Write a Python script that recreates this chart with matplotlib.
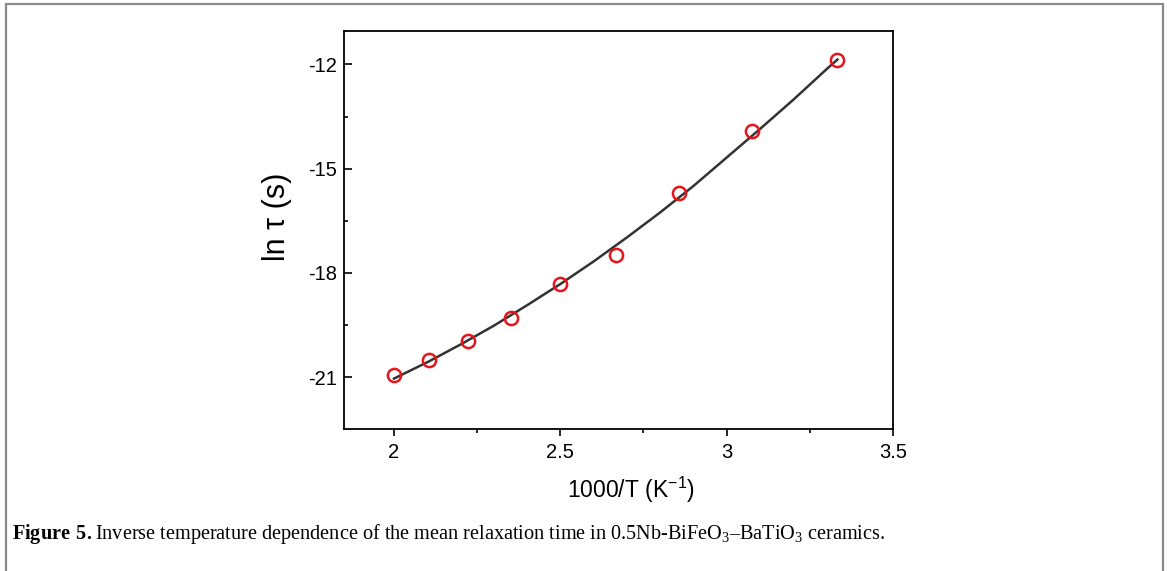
import numpy as np
import matplotlib.pyplot as plt
from matplotlib.patches import Rectangle
from matplotlib.ticker import MultipleLocator

plt.rcParams['font.family'] = ['Liberation Sans', 'DejaVu Sans']
plt.rcParams['axes.unicode_minus'] = False
plt.rcParams['mathtext.fontset'] = 'custom'
plt.rcParams['mathtext.rm'] = 'Liberation Serif'
plt.rcParams['mathtext.bf'] = 'Liberation Serif:bold'
plt.rcParams['mathtext.sf'] = 'Liberation Sans'

# measured points: 1000/T and ln(tau)
inv_t = [2.0, 2.105, 2.222, 2.353, 2.5, 2.667, 2.857, 3.077, 3.333]
ln_tau = [-20.94, -20.51, -19.96, -19.31, -18.32, -17.48, -15.71, -13.92, -11.86]

# fitted curve
fit_x = [2.0, 2.1, 2.2, 2.3, 2.4, 2.5, 2.6, 2.7, 2.8, 2.9, 3.0, 3.1, 3.2, 3.3, 3.333]
fit_y = [-21.04, -20.57, -20.06, -19.52, -18.93, -18.32, -17.67, -16.98, -16.26,
         -15.50, -14.68, -13.86, -13.02, -12.14, -11.86]

fig = plt.figure(figsize=(11.67, 5.71), dpi=100)
ax = fig.add_axes([0.2948, 0.2487, 0.4704, 0.6975])

ax.plot(fit_x, fit_y, color='#333333', lw=1.8, zorder=2)
ax.plot(inv_t, ln_tau, 'o', ms=9.5, mfc='none', mec='#e8141b', mew=1.8, zorder=3)

ax.set_xlim(1.85, 3.5)
ax.set_ylim(-22.49, -11.03)
ax.xaxis.set_major_locator(MultipleLocator(0.5))
ax.xaxis.set_minor_locator(MultipleLocator(0.25))
ax.yaxis.set_major_locator(MultipleLocator(3))
ax.yaxis.set_minor_locator(MultipleLocator(1.5))
ax.set_xticks([2, 2.5, 3, 3.5])
ax.set_xticklabels(['2', '2.5', '3', '3.5'])

ax.tick_params(axis='x', which='both', direction='out', labelsize=14.5, pad=5)
ax.tick_params(axis='x', which='major', length=5, width=1.2)
ax.tick_params(axis='x', which='minor', length=3, width=1.2)
ax.tick_params(axis='y', which='both', direction='in', labelsize=14.5, pad=5)
ax.tick_params(axis='y', which='major', length=6, width=1.2)
ax.tick_params(axis='y', which='minor', length=3, width=1.2)
for s in ax.spines.values():
    s.set_linewidth(1.3)

ax.set_xlabel(r'1000/T (K$^{\mathsf{-1}}$)', fontsize=16.5)
ax.xaxis.set_label_coords(0.523, -0.115)
ax.set_ylabel('ln τ (s)', fontsize=22, va='center')
ax.yaxis.set_label_coords(-0.122, 0.533)

# caption
fig.text(0.0103, 0.065,
         r'$\mathbf{Figure\ 5.}$Inverse temperature dependence of the mean relaxation '
         r'time in 0.5Nb-BiFeO$_3$–BaTiO$_3$ ceramics.',
         fontsize=14.6, family='Liberation Serif', va='center')

# outer frame of the figure box
fig.patches.append(Rectangle((6 / 1167, -0.1), 1157 / 1167, 1.1 - 4 / 571,
                             transform=fig.transFigure, fill=False,
                             edgecolor='#8a8a8a', lw=1.6))

fig.savefig('out.png', dpi=100)
